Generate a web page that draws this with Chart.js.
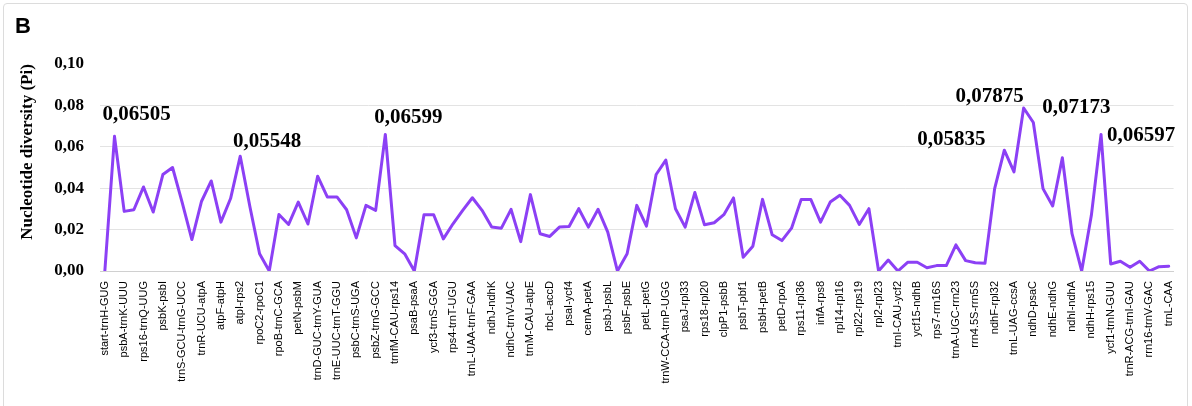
<!DOCTYPE html>
<html>
<head>
<meta charset="utf-8">
<script src="https://cdn.jsdelivr.net/npm/chart.js@4.4.1/dist/chart.umd.min.js"></script>
<style>
  html, body { margin: 0; padding: 0; background: #fff; }
  #wrap { position: relative; width: 1192px; height: 406px; }
  #frame { position: absolute; left: 3px; top: 3px; width: 1183px; height: 420px;
           border: 1px solid #dcdcdc; border-radius: 4px; pointer-events: none; }
</style>
</head>
<body>
<div id="wrap">
  <canvas id="piChart" width="1192" height="406"></canvas>
  <div id="frame"></div>
</div>
<script>
    // intergenic regions (every second name is shown on the axis)
    const regionNames = [
    'start-trnH-GUG', 'psbA-trnK-UUU', 'rps16-trnQ-UUG', 'psbK-psbI', 'trnS-GCU-trnG-UCC',
    'trnR-UCU-atpA', 'atpF-atpH', 'atpI-rps2', 'rpoC2-rpoC1', 'rpoB-trnC-GCA',
    'petN-psbM', 'trnD-GUC-trnY-GUA', 'trnE-UUC-trnT-GGU', 'psbC-trnS-UGA', 'psbZ-trnG-GCC',
    'trnfM-CAU-rps14', 'psaB-psaA', 'ycf3-trnS-GGA', 'rps4-trnT-UGU', 'trnL-UAA-trnF-GAA',
    'ndhJ-ndhK', 'ndhC-trnV-UAC', 'trnM-CAU-atpE', 'rbcL-accD', 'psaI-ycf4',
    'cemA-petA', 'psbJ-psbL', 'psbF-psbE', 'petL-petG', 'trnW-CCA-trnP-UGG',
    'psaJ-rpl33', 'rps18-rpl20', 'clpP1-psbB', 'psbT-pbf1', 'psbH-petB',
    'petD-rpoA', 'rps11-rpl36', 'infA-rps8', 'rpl14-rpl16', 'rpl22-rps19',
    'rpl2-rpl23', 'trnI-CAU-ycf2', 'ycf15-ndhB', 'rps7-rrn16S', 'trnA-UGC-rrn23',
    'rrn4.5S-rrn5S', 'ndhF-rpl32', 'trnL-UAG-ccsA', 'ndhD-psaC', 'ndhE-ndhG',
    'ndhI-ndhA', 'ndhH-rps15', 'ycf1-trnN-GUU', 'trnR-ACG-trnI-GAU', 'rrn16-trnV-GAC',
    'trnL-CAA'
    ];

    const piValues = [
    0, 0.06505, 0.0288, 0.0296, 0.0406, 0.0285, 0.0466, 0.0500, 0.0330, 0.0152,
    0.0337, 0.0435, 0.0236, 0.0350, 0.05548, 0.0310, 0.0083, 0, 0.0273, 0.0225,
    0.0333, 0.0227, 0.0458, 0.0358, 0.0358, 0.0296, 0.0160, 0.0317, 0.0293, 0.06599,
    0.0123, 0.0083, 0, 0.0272, 0.0272, 0.0155, 0.0228, 0.0293, 0.0354, 0.0293,
    0.0212, 0.0207, 0.0298, 0.0142, 0.0369, 0.0180, 0.0167, 0.0212, 0.0215, 0.0301,
    0.0212, 0.0298, 0.0188, 0, 0.0083, 0.0317, 0.0217, 0.0466, 0.0536, 0.0301,
    0.0212, 0.0379, 0.0223, 0.0233, 0.0272, 0.0353, 0.0066, 0.0120, 0.0346, 0.0175,
    0.0147, 0.0207, 0.0346, 0.0345, 0.0236, 0.0333, 0.0366, 0.0317, 0.0225, 0.0301,
    0, 0.0053, 0, 0.0042, 0.0042, 0.0016, 0.0026, 0.0026, 0.0126, 0.0050,
    0.0040, 0.0037, 0.0398, 0.05835, 0.0479, 0.07875, 0.07173, 0.0398, 0.0314, 0.0547,
    0.0180, 0, 0.0269, 0.06597, 0.0034, 0.0047, 0.0018, 0.0047, 0, 0.0021,
    0.0023
    ];

    const yTicks = [0, 0.02, 0.04, 0.06, 0.08, 0.10];
    const peakIndex = [1, 14, 29, 93, 95, 96, 103];

    // unnamed points in between get an empty label
    const categories = piValues.map((v, i) => i % 2 === 0 ? regionNames[i / 2] : '');
    const fmt = (v, d) => v.toFixed(d).replace('.', ',');

    // label offsets from the point (px)
    const peakOffset = {1: [22, -22], 14: [27, -15], 29: [23, -17], 93: [-53, -11],
        95: [-34, -11], 96: [43, -15], 103: [40, 1]};

    const extraText = {
        id: 'extraText',
        afterDatasetsDraw(chart) {
            const ctx = chart.ctx;
            const xs = chart.scales.x, ys = chart.scales.y;
            ctx.save();
            ctx.fillStyle = '#000';
            ctx.textAlign = 'center';
            ctx.textBaseline = 'middle';
            ctx.font = 'bold 21px "Liberation Serif", "Times New Roman", serif';
            peakIndex.forEach(i => {
                const px = xs.getPixelForValue(i);
                const py = ys.getPixelForValue(piValues[i]);
                const o = peakOffset[i];
                ctx.fillText(fmt(piValues[i], 5), px + o[0], py + o[1]);
            });
            // panel letter
            ctx.textAlign = 'left';
            ctx.textBaseline = 'alphabetic';
            ctx.font = 'bold 22px "Liberation Sans", Arial, sans-serif';
            ctx.fillText('B', 15, 33);
            // y axis title
            ctx.translate(28, 152);
            ctx.rotate(-Math.PI / 2);
            ctx.textAlign = 'center';
            ctx.textBaseline = 'middle';
            ctx.font = 'bold 17px "Liberation Serif", "Times New Roman", serif';
            ctx.fillText('Nucleotide diversity (Pi)', 0, 0);
            ctx.restore();
        }
    };

    const dataPi = {
        labels: categories,
    datasets: [{
        label: 'Pi',
    data: piValues,
    borderColor: '#8c40f5',
    borderWidth: 3,
    borderJoinStyle: 'round',
    borderCapStyle: 'round',
    pointRadius: 0,
    tension: 0,
    fill: false
      }]
    };

    const configPi = {
        type: 'line',
    data: dataPi,
    options: {
        responsive: false,
    animation: false,
    layout: { padding: { left: 0, right: 14, top: 64, bottom: 0 } },
    scales: {
        x: {
        offset: true,
    grid: { display: false, drawTicks: false },
    border: { color: '#d0d0d0' },
    afterFit: s => { s.height = 135; },
    ticks: {
        autoSkip: false,
    maxRotation: 90,
    minRotation: 90,
    padding: 10,
    color: '#000',
    font: { family: '"Liberation Sans", Arial, sans-serif', size: 11 }
          }
        },
        y: {
        min: 0,
    max: 0.1,
    afterFit: s => { s.width = 100; },
    afterBuildTicks: s => { s.ticks = yTicks.map(v => ({ value: v })); },
    border: { display: false },
    grid: {
        drawTicks: false,
    color: c => c.tick && c.tick.value >= 0.099 ? 'rgba(0,0,0,0)' : '#e3e3e3'
          },
    ticks: {
        padding: 16,
    color: '#000',
    callback: v => fmt(v, 2),
    font: { family: '"Liberation Serif", "Times New Roman", serif', size: 17, weight: 'bold' }
          }
        }
      },
    plugins: {
        legend: { display: false },
    tooltip: { enabled: false }
      }
    },
    plugins: [extraText]
    };

    new Chart(document.getElementById('piChart'), configPi);
</script>
</body>
</html>
